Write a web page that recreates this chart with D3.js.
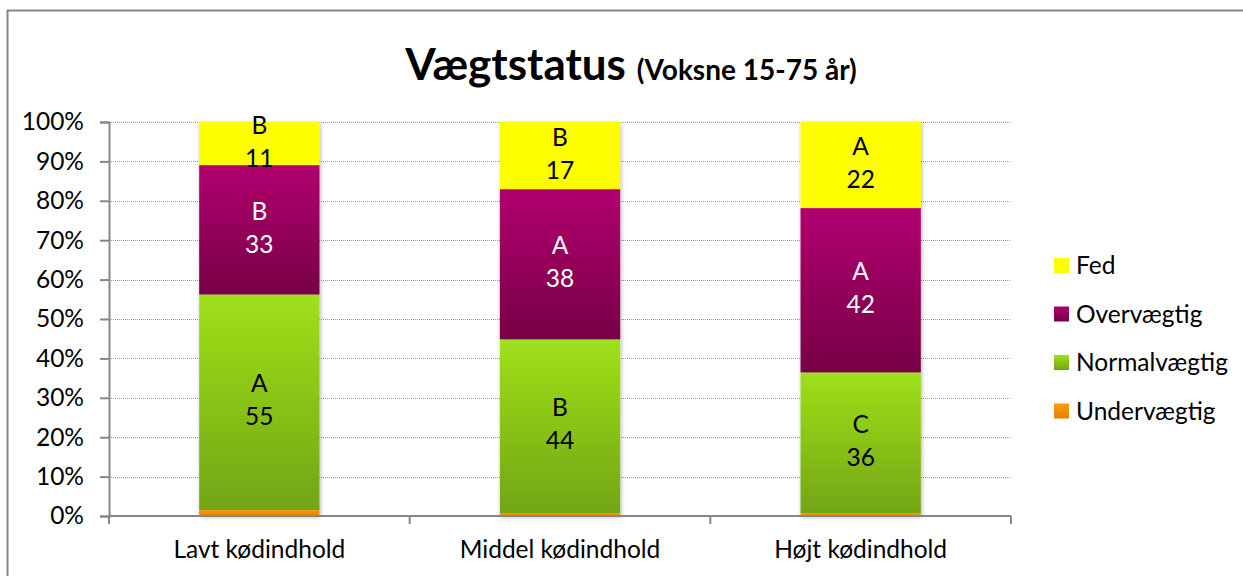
<!DOCTYPE html>
<html>
<head>
<meta charset="utf-8">
<script src="https://cdn.jsdelivr.net/npm/d3@7"></script>
<style>
  body { margin: 0; background: #fff; }
  text { font-family: Lato, "Noto Sans", sans-serif; }
</style>
</head>
<body>
<script>
// data (percent of group)
var categories = ["Lavt kødindhold", "Middel kødindhold", "Højt kødindhold"];
var series = ["Undervægtig", "Normalvægtig", "Overvægtig", "Fed"];
var undervaegtig = [1.5, 0.7, 0.7];
var normalvaegtig = [55, 44, 36];
var overvaegtig = [33, 38, 42];
var fed = [11, 17, 22];
// significance letters shown above the values
var letters = {
  "Normalvægtig": ["A", "B", "C"],
  "Overvægtig": ["B", "A", "A"],
  "Fed": ["B", "B", "A"]
};
var yTicks = [0, 0.1, 0.2, 0.3, 0.4, 0.5, 0.6, 0.7, 0.8, 0.9, 1];

var W = 1243, H = 576;
var margin = {top: 122, right: 231, bottom: 60, left: 109},
    width = 1011 - margin.left,
    height = 516 - margin.top;
var fs = 24.5;

var svg = d3.select("body").append("svg")
    .attr("width", W)
    .attr("height", H);

// outer chart border
svg.append("rect")
    .attr("x", 7.5).attr("y", 10.5)
    .attr("width", W + 10).attr("height", H + 10)
    .attr("fill", "none")
    .attr("stroke", "#868686")
    .attr("stroke-width", 2);

var defs = svg.append("defs");
var grads = {
  "Undervægtig": ["#ff9c00", "#e57f00"],
  "Normalvægtig": ["#a0e01a", "#72a514"],
  "Overvægtig": ["#b1006f", "#760045"],
  "Fed": ["#ffff00", "#ffff00"]
};
series.forEach(function(s, i) {
  var g = defs.append("linearGradient")
      .attr("id", "g" + i)
      .attr("x1", 0).attr("y1", 0).attr("x2", 0).attr("y2", 1);
  g.append("stop").attr("offset", "0%").attr("stop-color", grads[s][0]);
  g.append("stop").attr("offset", "100%").attr("stop-color", grads[s][1]);
});
var f = defs.append("filter").attr("id", "shadow")
    .attr("x", "-10%").attr("y", "-10%").attr("width", "120%").attr("height", "120%");
f.append("feDropShadow").attr("dx", 1).attr("dy", 1).attr("stdDeviation", 2)
    .attr("flood-color", "#000").attr("flood-opacity", 0.3);

var chart = svg.append("g")
    .attr("transform", "translate(" + margin.left + "," + margin.top + ")");

var table = categories.map(function(c, i) {
  return {
    cat: c,
    "Undervægtig": undervaegtig[i],
    "Normalvægtig": normalvaegtig[i],
    "Overvægtig": overvaegtig[i],
    "Fed": fed[i]
  };
});
var stacked = d3.stack().keys(series).offset(d3.stackOffsetExpand)(table);

var x = d3.scaleBand().domain(categories).range([0, width]).paddingInner(0.6).paddingOuter(0.3);
var y = d3.scaleLinear().domain([0, 1]).range([height, 0]);

// dotted gridlines
chart.append("g")
  .selectAll("line")
  .data(yTicks.slice(1))
  .enter().append("line")
    .attr("x1", 0).attr("x2", width)
    .attr("y1", function(d) { return Math.round(y(d)) + 0.5; })
    .attr("y2", function(d) { return Math.round(y(d)) + 0.5; })
    .attr("stroke", "#9a9a9a")
    .attr("stroke-dasharray", "1,1");

// bars
var barG = chart.append("g").attr("filter", "url(#shadow)");
stacked.forEach(function(layer, i) {
  barG.selectAll(".s" + i)
    .data(layer)
    .enter().append("rect")
      .attr("x", function(d) { return x(d.data.cat); })
      .attr("width", x.bandwidth())
      .attr("y", function(d) { return y(d[1]); })
      .attr("height", function(d) { return y(d[0]) - y(d[1]); })
      .attr("fill", "url(#g" + i + ")");
});

// labels
stacked.forEach(function(layer, i) {
  var key = layer.key;
  if (!letters[key]) return;
  var col = key === "Overvægtig" ? "#fff" : "#000";
  layer.forEach(function(d, j) {
    var cx = x(d.data.cat) + x.bandwidth() / 2;
    var cy = (y(d[0]) + y(d[1])) / 2;
    chart.append("text")
      .attr("x", cx).attr("y", cy - 10)
      .attr("text-anchor", "middle")
      .attr("font-size", fs)
      .attr("fill", col)
      .text(letters[key][j]);
    chart.append("text")
      .attr("x", cx).attr("y", cy + 23)
      .attr("text-anchor", "middle")
      .attr("font-size", fs)
      .attr("fill", col)
      .text(d.data[key]);
  });
});

// y axis
var yAxis = chart.append("g")
    .call(d3.axisLeft(y).tickValues(yTicks).tickFormat(d3.format(".0%")).tickSize(9).tickPadding(16));
yAxis.select(".domain").attr("stroke", "#868686").attr("stroke-width", 2);
yAxis.selectAll(".tick line").attr("stroke", "#868686").attr("stroke-width", 2);
yAxis.selectAll("text").attr("font-size", fs).attr("fill", "#000")
    .style("font-family", "Lato, 'Noto Sans', sans-serif");

// x axis
var xAxis = chart.append("g")
    .attr("transform", "translate(0," + height + ")")
    .call(d3.axisBottom(x).tickSize(0).tickPadding(25));
xAxis.select(".domain").remove();
xAxis.append("line")
    .attr("x1", 0).attr("x2", width)
    .attr("stroke", "#868686").attr("stroke-width", 2);
xAxis.selectAll(".sep")
  .data(d3.range(4))
  .enter().append("line")
    .attr("x1", function(d) { return d * width / 3; })
    .attr("x2", function(d) { return d * width / 3; })
    .attr("y1", 0).attr("y2", 8)
    .attr("stroke", "#868686").attr("stroke-width", 2);
xAxis.selectAll(".tick text").attr("font-size", fs).attr("fill", "#000")
    .style("font-family", "Lato, 'Noto Sans', sans-serif");

// title
var title = svg.append("text")
    .attr("x", 631).attr("y", 80)
    .attr("text-anchor", "middle")
    .attr("font-weight", "bold")
    .attr("fill", "#000");
title.append("tspan").attr("font-size", 44).text("Vægtstatus ");
title.append("tspan").attr("font-size", 28).text("(Voksne 15-75 år)");

// legend
var legendOrder = ["Fed", "Overvægtig", "Normalvægtig", "Undervægtig"];
var legend = svg.append("g").attr("transform", "translate(1054,258)");
legendOrder.forEach(function(s, i) {
  var row = legend.append("g").attr("transform", "translate(0," + (i * 48.5) + ")");
  row.append("rect").attr("width", 15).attr("height", 15)
     .attr("fill", "url(#g" + series.indexOf(s) + ")");
  row.append("text").attr("x", 22).attr("y", 16)
     .attr("font-size", fs).attr("fill", "#000").text(s);
});
</script>
</body>
</html>
